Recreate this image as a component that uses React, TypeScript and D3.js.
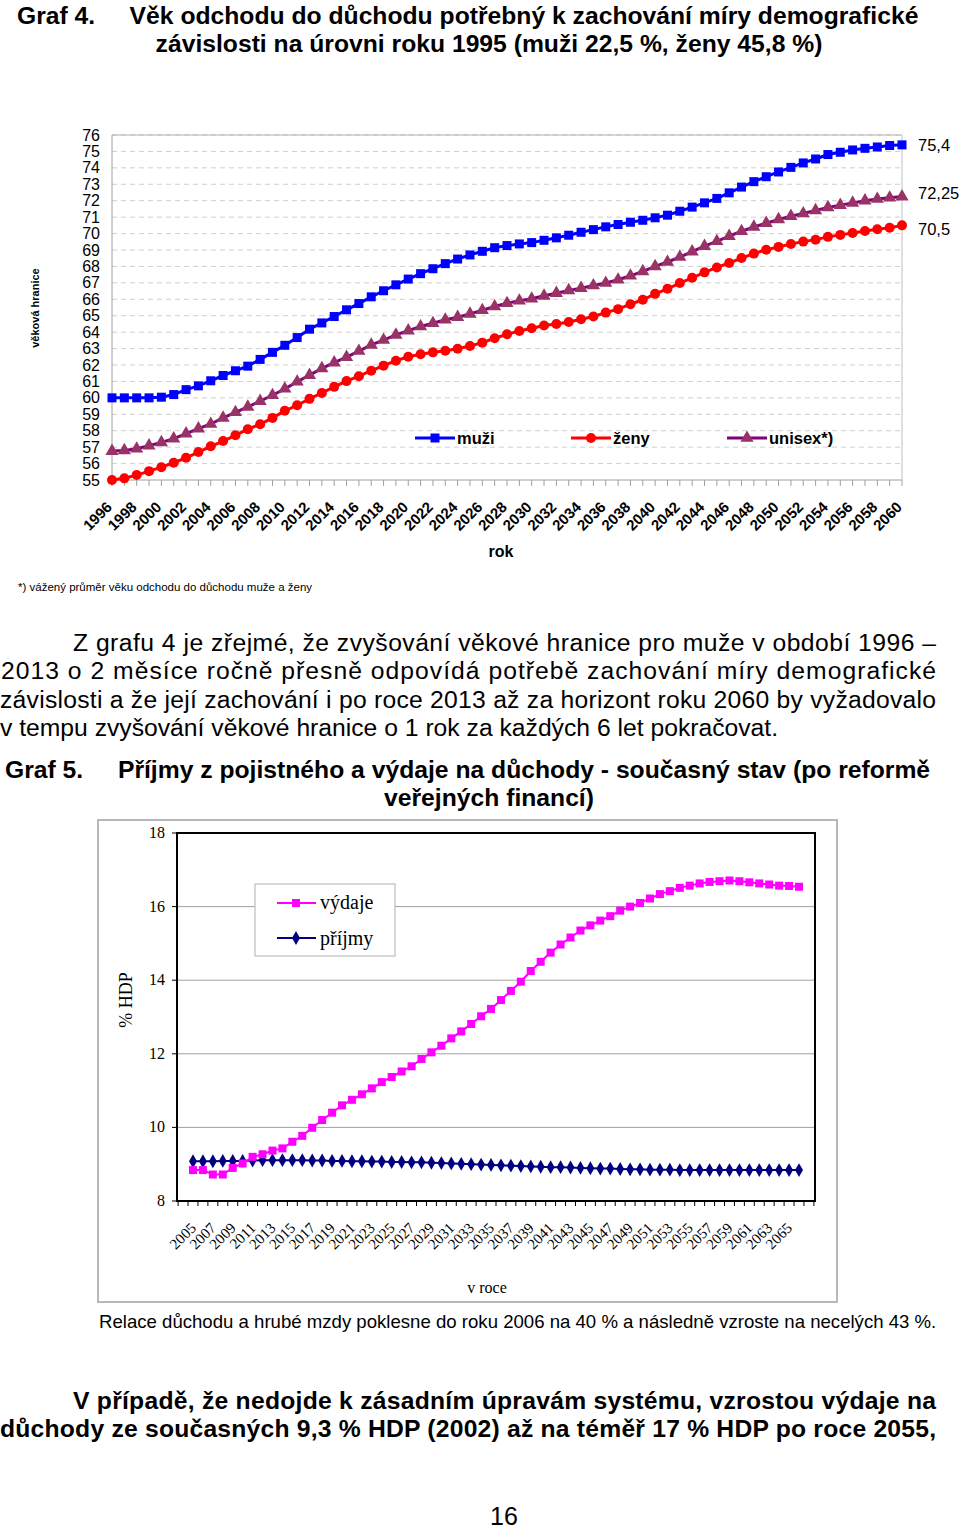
import React from 'react';
import * as d3 from 'd3';

// Graf 4 – věk odchodu do důchodu
const years1 = d3.range(1996, 2061);
const muzi = [
  60, 60, 60, 60, 60.04, 60.2, 60.5, 60.73, 61.04, 61.36,
  61.65, 61.93, 62.34, 62.77, 63.2, 63.67, 64.18, 64.56, 64.95, 65.36,
  65.74, 66.15, 66.52, 66.88, 67.23, 67.56, 67.86, 68.17, 68.45, 68.7,
  68.92, 69.14, 69.27, 69.37, 69.45, 69.59, 69.74, 69.9, 70.08, 70.24,
  70.41, 70.55, 70.69, 70.81, 70.96, 71.12, 71.36, 71.61, 71.87, 72.14,
  72.48, 72.83, 73.16, 73.46, 73.75, 74.03, 74.3, 74.54, 74.81, 74.95,
  75.09, 75.19, 75.27, 75.36, 75.4,
];
const zeny = [
  55, 55.1, 55.3, 55.54, 55.78, 56.05, 56.35, 56.7, 57.05, 57.37,
  57.72, 58.09, 58.39, 58.78, 59.21, 59.55, 59.94, 60.3, 60.67, 61.02,
  61.32, 61.65, 61.96, 62.26, 62.5, 62.65, 62.77, 62.87, 62.99, 63.16,
  63.36, 63.63, 63.87, 64.07, 64.24, 64.4, 64.5, 64.62, 64.79, 64.95,
  65.19, 65.4, 65.7, 65.97, 66.33, 66.64, 66.99, 67.31, 67.64, 67.94,
  68.21, 68.51, 68.78, 69.02, 69.19, 69.37, 69.51, 69.63, 69.8, 69.92,
  70.04, 70.16, 70.26, 70.35, 70.5,
];
const unisex = [
  56.76, 56.8, 56.9, 57.09, 57.29, 57.52, 57.82, 58.13, 58.41, 58.78,
  59.12, 59.45, 59.8, 60.16, 60.55, 60.98, 61.38, 61.79, 62.14, 62.48,
  62.85, 63.22, 63.52, 63.83, 64.09, 64.34, 64.54, 64.75, 64.91, 65.11,
  65.33, 65.56, 65.76, 65.91, 66.03, 66.21, 66.37, 66.54, 66.68, 66.84,
  66.99, 67.19, 67.43, 67.7, 68.0, 68.27, 68.57, 68.9, 69.23, 69.53,
  69.84, 70.14, 70.41, 70.63, 70.86, 71.06, 71.22, 71.41, 71.59, 71.73,
  71.87, 72.0, 72.1, 72.18, 72.25,
];
const endLabels = ['75,4', '72,25', '70,5'];
const yTicks1 = d3.range(55, 77);

// Graf 5 – příjmy a výdaje (% HDP)
const years2 = d3.range(2005, 2067);
const vydaje = [
  8.84, 8.84, 8.72, 8.72, 8.9, 9.02, 9.2, 9.27, 9.37, 9.43,
  9.61, 9.77, 9.99, 10.2, 10.4, 10.6, 10.75, 10.9, 11.06, 11.23,
  11.37, 11.52, 11.66, 11.86, 12.04, 12.22, 12.42, 12.61, 12.81, 13.02,
  13.22, 13.46, 13.71, 13.96, 14.25, 14.5, 14.75, 14.97, 15.16, 15.35,
  15.49, 15.62, 15.74, 15.89, 16.0, 16.1, 16.22, 16.34, 16.42, 16.51,
  16.57, 16.63, 16.67, 16.69, 16.71, 16.69, 16.66, 16.63, 16.6, 16.57,
  16.56, 16.54,
];
const prijmy = [
  9.08, 9.08, 9.08, 9.09, 9.09, 9.09, 9.1, 9.11, 9.11, 9.11,
  9.11, 9.11, 9.1, 9.1, 9.09, 9.09, 9.08, 9.08, 9.07, 9.07,
  9.06, 9.06, 9.05, 9.05, 9.04, 9.03, 9.02, 9.01, 9.0, 8.99,
  8.98, 8.97, 8.96, 8.95, 8.94, 8.93, 8.92, 8.92, 8.91, 8.9,
  8.89, 8.88, 8.88, 8.87, 8.86, 8.86, 8.85, 8.85, 8.85, 8.84,
  8.84, 8.84, 8.84, 8.84, 8.84, 8.84, 8.84, 8.84, 8.84, 8.84,
  8.84, 8.84,
];
const yTicks2 = [8, 10, 12, 14, 16, 18];

const SANS = '"Liberation Sans", Arial, sans-serif';
const SERIF = '"Liberation Serif", "Times New Roman", serif';
const BIG = 24.7;

const Square = ({ x, y, s, fill }: { x: number; y: number; s: number; fill: string }) => (
  <rect x={x - s / 2} y={y - s / 2} width={s} height={s} fill={fill} />
);

const symTri = d3.symbol(d3.symbolTriangle, 75)()!;
const symDia = d3.symbol(d3.symbolDiamond, 55)()!;

export default function App() {
  // chart 1 scales
  const x1 = d3.scalePoint<number>().domain(years1).range([112, 902]);
  const y1 = d3.scaleLinear().domain([55, 76]).range([480, 135]);
  const line1 = (vals: number[]) =>
    d3.line<number>().x((_, i) => x1(years1[i])!).y(d => y1(d))(vals)!;

  // chart 2 scales
  const x2 = d3.scalePoint<number>().domain(years2).range([193, 799]);
  const y2 = d3.scaleLinear().domain([8, 18]).range([1201, 833]);
  const step2 = x2.step();
  const line2 = (vals: number[]) =>
    d3.line<number>().x((_, i) => x2(years2[i])!).y(d => y2(d))(vals)!;
  const p2 = { l: 177, r: 815, t: y2(18), b: y2(8) };
  const ticks2 = d3.range(-1, 64)
    .map(k => x2(years2[0])! + (k - 0.5) * step2)
    .filter(x => x >= p2.l && x <= p2.r + 0.5);

  const endVals = [muzi[muzi.length - 1], unisex[unisex.length - 1], zeny[zeny.length - 1]];
  const endDy = [0, -4, 4];

  return (
    <svg width={960} height={1531} style={{ position: 'absolute', left: 0, top: 0, background: '#fff' }}>
      {/* ---------- Graf 4 title ---------- */}
      <g fontFamily={SANS} fontWeight="bold" fontSize={BIG}>
        <text x={17} y={24}>Graf 4.</text>
        <text x={524} y={24} textAnchor="middle">Věk odchodu do důchodu potřebný k zachování míry demografické</text>
        <text x={489} y={52} textAnchor="middle">závislosti na úrovni roku 1995 (muži 22,5 %, ženy 45,8 %)</text>
      </g>

      {/* ---------- Graf 4 plot ---------- */}
      <g fontFamily={SANS}>
        {yTicks1.slice(1).map(t => (
          <line key={t} x1={112} x2={902} y1={y1(t)} y2={y1(t)} stroke="#cfcfcf" strokeDasharray="5,4" strokeWidth={1} />
        ))}
        <line x1={112} x2={902} y1={y1(76)} y2={y1(76)} stroke="#b0b0b0" />
        <line x1={902} x2={902} y1={y1(76)} y2={y1(55)} stroke="#c0c0c0" />
        <line x1={112} x2={112} y1={y1(76)} y2={y1(55)} stroke="#a0a0a0" />
        <line x1={112} x2={902} y1={y1(55)} y2={y1(55)} stroke="#a0a0a0" />
        {years1.map(yr => (
          <line key={yr} x1={x1(yr)} x2={x1(yr)} y1={480} y2={486} stroke="#a0a0a0" />
        ))}
        {yTicks1.map(t => (
          <text key={t} x={100} y={y1(t) + 5.5} textAnchor="end" fontSize={16}>{t}</text>
        ))}
        {years1.filter((_, i) => i % 2 === 0).map(yr => (
          <text key={yr} transform={`translate(${x1(yr)! + 1},${508}) rotate(-45)`} textAnchor="end"
            fontSize={15} fontWeight="bold">{yr}</text>
        ))}
        <text x={501} y={557} textAnchor="middle" fontSize={16} fontWeight="bold">rok</text>
        <text transform="translate(39,308) rotate(-90)" textAnchor="middle" fontSize={11} fontWeight="bold">věková hranice</text>

        {/* series */}
        <path d={line1(zeny)} fill="none" stroke="#ff0000" strokeWidth={3} />
        {zeny.map((v, i) => <circle key={i} cx={x1(years1[i])} cy={y1(v)} r={5} fill="#ff0000" />)}
        <path d={line1(unisex)} fill="none" stroke="#800080" strokeWidth={3} />
        {unisex.map((v, i) => (
          <path key={i} d={symTri} transform={`translate(${x1(years1[i])},${y1(v)})`} fill="#993366" />
        ))}
        <path d={line1(muzi)} fill="none" stroke="#0000ff" strokeWidth={3} />
        {muzi.map((v, i) => <Square key={i} x={x1(years1[i])!} y={y1(v)} s={9} fill="#0000ff" />)}

        {/* legend */}
        <g fontSize={16.5} fontWeight="bold">
          <line x1={415} x2={455} y1={438} y2={438} stroke="#0000ff" strokeWidth={3} />
          <Square x={435} y={438} s={9} fill="#0000ff" />
          <text x={457} y={444}>muži</text>
          <line x1={571} x2={611} y1={438} y2={438} stroke="#ff0000" strokeWidth={3} />
          <circle cx={591} cy={438} r={5} fill="#ff0000" />
          <text x={613} y={444}>ženy</text>
          <line x1={727} x2={767} y1={438} y2={438} stroke="#800080" strokeWidth={3} />
          <path d={symTri} transform="translate(747,438)" fill="#993366" />
          <text x={769} y={444}>unisex*)</text>
        </g>

        {endLabels.map((lab, i) => (
          <text key={lab} x={918} y={y1(endVals[i]) + endDy[i] + 6} fontSize={16.5}>{lab}</text>
        ))}

        <text x={18} y={591} fontSize={11.5}>*) vážený průměr věku odchodu do důchodu muže a ženy</text>
      </g>

      {/* ---------- paragraph ---------- */}
      <g fontFamily={SANS} fontSize={BIG}>
        <text x={73} y={651} textLength={863} lengthAdjust="spacing">Z grafu 4 je zřejmé, že zvyšování věkové hranice pro muže v období 1996 –</text>
        <text x={1} y={679} textLength={935} lengthAdjust="spacing">2013 o 2 měsíce ročně přesně odpovídá potřebě zachování míry demografické</text>
        <text x={0} y={708} textLength={936} lengthAdjust="spacing">závislosti a že její zachování i po roce 2013 až za horizont roku 2060 by vyžadovalo</text>
        <text x={0} y={736}>v tempu zvyšování věkové hranice o 1 rok za každých 6 let pokračovat.</text>
      </g>

      {/* ---------- Graf 5 title ---------- */}
      <g fontFamily={SANS} fontWeight="bold" fontSize={BIG}>
        <text x={5} y={778}>Graf 5.</text>
        <text x={524} y={778} textAnchor="middle">Příjmy z pojistného a výdaje na důchody - současný stav (po reformě</text>
        <text x={489} y={806} textAnchor="middle">veřejných financí)</text>
      </g>

      {/* ---------- Graf 5 chart ---------- */}
      <g fontFamily={SERIF}>
        <rect x={98} y={820} width={739} height={482} fill="#fff" stroke="#b8b8b8" strokeWidth={2} />
        {yTicks2.slice(1, -1).map(t => (
          <line key={t} x1={p2.l} x2={p2.r} y1={y2(t)} y2={y2(t)} stroke="#a0a0a0" strokeWidth={1} />
        ))}
        <rect x={p2.l} y={p2.t} width={p2.r - p2.l} height={p2.b - p2.t} fill="none" stroke="#000" strokeWidth={2} />
        {yTicks2.map(t => (
          <g key={t}>
            <line x1={p2.l - 5} x2={p2.l} y1={y2(t)} y2={y2(t)} stroke="#000" />
            <text x={165} y={y2(t) + 5} textAnchor="end" fontSize={16}>{t}</text>
          </g>
        ))}
        {ticks2.map((x, i) => (
          <line key={i} x1={x} x2={x} y1={p2.b} y2={p2.b + 5} stroke="#000" />
        ))}
        {years2.filter((_, i) => i % 2 === 0 && i <= 60).map(yr => (
          <text key={yr} transform={`translate(${x2(yr)! + 4},${1229}) rotate(-45)`} textAnchor="end" fontSize={15}>{yr}</text>
        ))}
        <text x={487} y={1293} textAnchor="middle" fontSize={16}>v roce</text>
        <text transform="translate(132,1000) rotate(-90)" textAnchor="middle" fontSize={18}>% HDP</text>

        <path d={line2(prijmy)} fill="none" stroke="#000080" strokeWidth={2} />
        {prijmy.map((v, i) => (
          <path key={i} d={symDia} transform={`translate(${x2(years2[i])},${y2(v)})`} fill="#000080" />
        ))}
        <path d={line2(vydaje)} fill="none" stroke="#ff00ff" strokeWidth={2} />
        {vydaje.map((v, i) => <Square key={i} x={x2(years2[i])!} y={y2(v)} s={8} fill="#ff00ff" />)}

        {/* legend */}
        <rect x={255} y={884} width={140} height={72} fill="#fff" stroke="#b0b0b0" />
        <line x1={277} x2={316} y1={903} y2={903} stroke="#ff00ff" strokeWidth={2} />
        <Square x={296} y={903} s={8} fill="#ff00ff" />
        <text x={320} y={909} fontSize={20}>výdaje</text>
        <line x1={277} x2={316} y1={938} y2={938} stroke="#000080" strokeWidth={2} />
        <path d={symDia} transform="translate(296,938)" fill="#000080" />
        <text x={320} y={945} fontSize={20}>příjmy</text>
      </g>

      <text x={99} y={1328} fontFamily={SANS} fontSize={18.6}>Relace důchodu a hrubé mzdy poklesne do roku 2006 na 40 % a následně vzroste na necelých 43 %.</text>

      {/* ---------- bottom paragraph ---------- */}
      <g fontFamily={SANS} fontSize={BIG} fontWeight="bold">
        <text x={73} y={1409} textLength={863} lengthAdjust="spacing">V případě, že nedojde k zásadním úpravám systému, vzrostou výdaje na</text>
        <text x={0} y={1437} textLength={936} lengthAdjust="spacing">důchody ze současných 9,3 % HDP (2002) až na téměř 17 % HDP po roce 2055,</text>
      </g>
      <text x={504} y={1525} textAnchor="middle" fontFamily={SANS} fontSize={25}>16</text>
    </svg>
  );
}
